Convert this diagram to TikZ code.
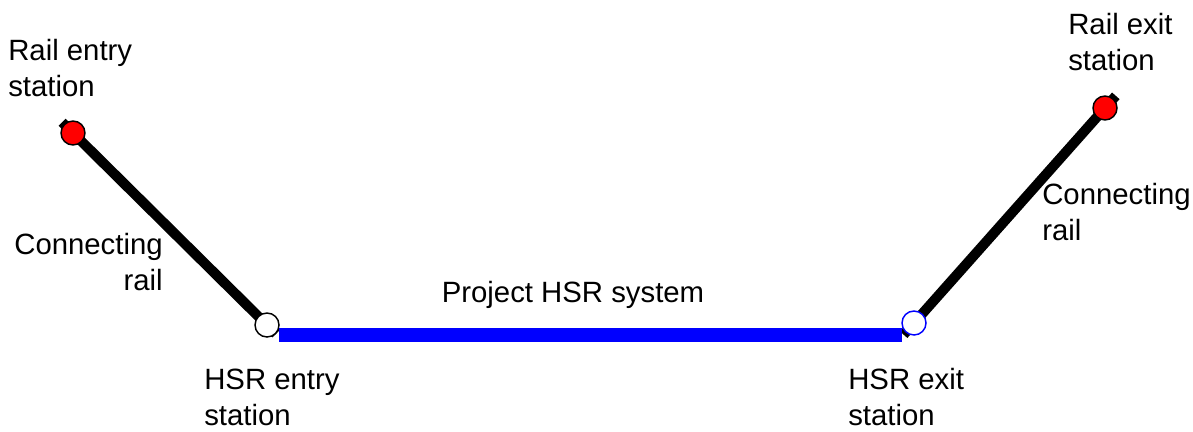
\documentclass[tikz,border=0pt]{standalone}
\usepackage{fontspec}
\setmainfont{Liberation Sans}
\pgfdeclarelayer{bg}
\pgfsetlayers{bg,main}
\begin{document}
\begin{tikzpicture}[x=0.75pt,y=-0.75pt,font=\fontsize{22}{27}\selectfont]
\useasboundingbox (0,0) rectangle (1193,432);
\node[circle, draw, line width=1.1pt, fill=red, minimum size=18pt, inner sep=0] (railin) at (73,133){};
\node[circle, draw, line width=1.1pt, fill=white, minimum size=18pt, inner sep=0] (hsrin) at (267,325){};
\node[circle, draw=blue, line width=1.1pt, fill=white, minimum size=18pt, inner sep=0] (hsrout) at (914,323){};
\node[circle, draw, line width=1.1pt, fill=red, minimum size=18pt, inner sep=0] (railout) at (1105,108){};
\coordinate (hsrl) at (279,335);
\coordinate (hsrr) at (902,335);
\begin{pgfonlayer}{bg}
\draw[line width=7.5pt, shorten <=-11.5pt, shorten >=-9.5pt](railin.center) -- (hsrin.center);
\draw[line width=7.5pt, shorten <=-11.7pt, shorten >=-12.2pt](hsrout.center) -- (railout.center);
\draw[blue, line width=10.5pt](hsrl) -- (hsrr);
\end{pgfonlayer}
\node[anchor=west, align=left, inner sep=0] (txtrailin) at (8,68){Rail entry\\station};
\node[anchor=east, align=right, inner sep=0] (txtconnl) at (163,262){Connecting\\rail};
\node[inner sep=0] (txtproj) at (573,295){Project HSR system};
\node[anchor=west, align=left, inner sep=0] (txthsrin) at (204,397){HSR entry\\station};
\node[anchor=west, align=left, inner sep=0] (txthsrout) at (848,397){HSR exit\\station};
\node[anchor=west, align=left, inner sep=0] (txtrailout) at (1068,42){Rail exit\\station};
\node[anchor=west, align=left, inner sep=0] (txtconnr) at (1042,212){Connecting\\rail};
\end{tikzpicture}
\end{document}
